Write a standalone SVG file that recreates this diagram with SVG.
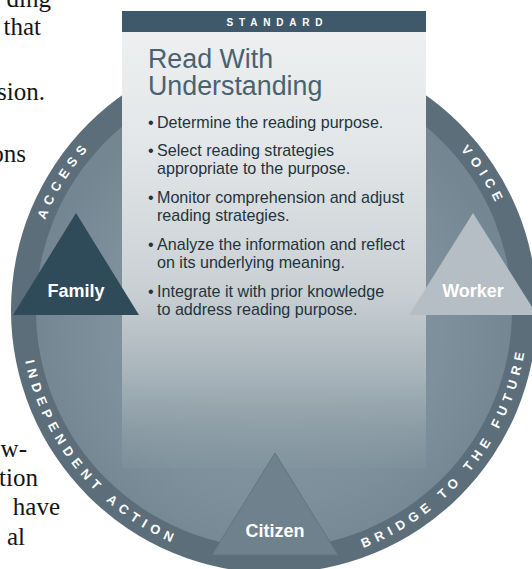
<svg xmlns="http://www.w3.org/2000/svg" width="532" height="569" viewBox="0 0 532 569">
  <defs>
    <style>
      .page { font-family: "Liberation Serif", "Times New Roman", serif; font-size: 25px; fill: #151515; text-anchor: end; }
      .title { font-family: "Liberation Sans", Arial, sans-serif; font-size: 26.8px; fill: #4a6270; }
      .bul { font-family: "Liberation Sans", Arial, sans-serif; font-size: 16.1px; fill: #22343d; }
      .bar { font-family: "Liberation Sans", Arial, sans-serif; font-size: 10px; font-weight: bold; fill: #ffffff; letter-spacing: 5.8px; text-anchor: middle; }
      .ring { font-family: "Liberation Sans", Arial, sans-serif; font-size: 13px; font-weight: bold; fill: #ffffff; letter-spacing: 5.6px; }
      .tri { font-family: "Liberation Sans", Arial, sans-serif; font-size: 18px; font-weight: bold; fill: #ffffff; text-anchor: middle; }
    </style>
    <radialGradient id="discGrad" cx="274" cy="330" r="240" gradientUnits="userSpaceOnUse">
      <stop offset="0" stop-color="#8898a2"/>
      <stop offset="0.7" stop-color="#7e909b"/>
      <stop offset="1" stop-color="#738691"/>
    </radialGradient>
    <linearGradient id="panelGrad" x1="0" y1="11" x2="0" y2="468" gradientUnits="userSpaceOnUse">
      <stop offset="0" stop-color="#eff1f2"/>
      <stop offset="0.3" stop-color="#e3e6e8"/>
      <stop offset="0.62" stop-color="#c8cfd3"/>
      <stop offset="0.8" stop-color="#a7b3ba"/>
      <stop offset="1" stop-color="#8e9ea7" stop-opacity="0.2"/>
    </linearGradient>
    <path id="arcTop" d="M 28 310 A 246 246 0 0 1 520 310"/>
    <path id="arcBottom" d="M 20 310 A 254 254 0 0 0 528 310"/>
  </defs>

  <g id="page-text">
    <text class="page" x="51" y="7">ding</text>
    <text class="page" x="41" y="35">that</text>
    <text class="page" x="45" y="100">sion.</text>
    <text class="page" x="26" y="162">ons</text>
    <text class="page" x="27" y="457">w-</text>
    <text class="page" x="38" y="486">tion</text>
    <text class="page" x="60" y="515">have</text>
    <text class="page" x="25" y="545">al</text>
  </g>

  <g id="wheel">
    <circle cx="274" cy="310" r="263" fill="#5b6e7a"/>
    <circle cx="274" cy="310" r="238" fill="url(#discGrad)"/>
  </g>

  <g id="ring-labels">
    <text class="ring"><textPath href="#arcTop" startOffset="136" text-anchor="middle">ACCESS</textPath></text>
    <text class="ring"><textPath href="#arcTop" startOffset="632" text-anchor="middle">VOICE</textPath></text>
    <text class="ring"><textPath href="#arcBottom" startOffset="175" text-anchor="middle">INDEPENDENT ACTION</textPath></text>
    <text class="ring"><textPath href="#arcBottom" startOffset="625" text-anchor="middle">BRIDGE TO THE FUTURE</textPath></text>
  </g>

  <g id="standard-panel">
    <rect x="122" y="11" width="304" height="457" fill="url(#panelGrad)"/>
    <rect x="122" y="11" width="304" height="21" fill="#40596a"/>
    <text class="bar" x="277.5" y="25.5">STANDARD</text>
    <text class="title" x="148" y="68">Read With</text>
    <text class="title" x="148" y="95">Understanding</text>
    <g class="bul">
      <text x="148" y="128">•</text><text x="157" y="128">Determine the reading purpose.</text>
      <text x="148" y="156">•</text><text x="157" y="156">Select reading strategies</text>
      <text x="157" y="174">appropriate to the purpose.</text>
      <text x="148" y="203">•</text><text x="157" y="203">Monitor comprehension and adjust</text>
      <text x="157" y="221">reading strategies.</text>
      <text x="148" y="250">•</text><text x="157" y="250">Analyze the information and reflect</text>
      <text x="157" y="268">on its underlying meaning.</text>
      <text x="148" y="297">•</text><text x="157" y="297">Integrate it with prior knowledge</text>
      <text x="157" y="315">to address reading purpose.</text>
    </g>
  </g>

  <g id="family">
    <polygon points="76,213 139,315 13,315" fill="#2f4a58"/>
    <text class="tri" x="76" y="297">Family</text>
  </g>

  <g id="worker">
    <polygon points="473,213 537,315 409,315" fill="#b5bec4"/>
    <text class="tri" x="473" y="297">Worker</text>
  </g>

  <g id="citizen">
    <polygon points="275,453 338,555 212,555" fill="#6f818c" stroke="#63757f" stroke-width="1"/>
    <text class="tri" x="275" y="537">Citizen</text>
  </g>

  <g id="connectors"/>
</svg>
